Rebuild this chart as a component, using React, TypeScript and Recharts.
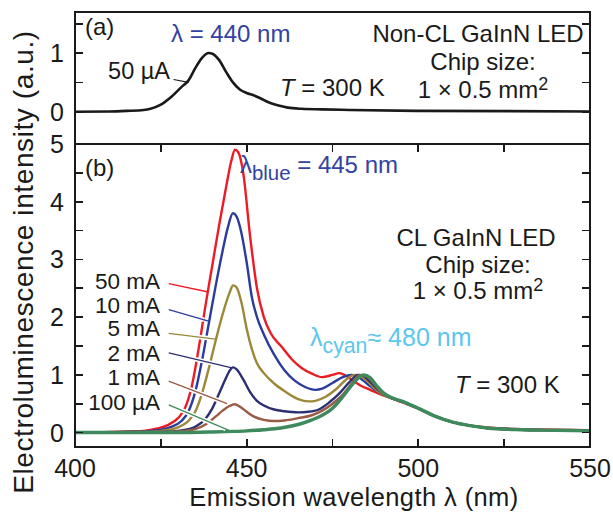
import React from "react";
import { Line, LineChart, ReferenceLine, XAxis, YAxis } from "recharts";

type Pt = [number, number];

// wavelength (nm), intensity (a.u.)
const nonCl50uA: Pt[] = [
  [400, 0], [410, 0.005], [415, 0.015], [420, 0.03], [422, 0.05], [425, 0.12], [428, 0.25],
  [431, 0.42], [433, 0.53], [435, 0.74], [437, 0.92], [439, 1.0], [440, 0.99], [442, 0.88],
  [444, 0.68], [446, 0.5], [448, 0.38], [450, 0.32], [452, 0.28], [454, 0.23], [456, 0.17],
  [459, 0.11], [462, 0.07], [466, 0.05], [472, 0.04], [480, 0.03], [500, 0.015], [550, 0.005],
];

const cl50mA: Pt[] = [
  [400, 0], [410, 0.01], [415, 0.02], [420, 0.03], [424, 0.07], [427, 0.13], [430, 0.25],
  [432, 0.42], [434, 0.8], [436, 1.45], [438, 2.2], [440, 2.9], [442, 3.6], [444, 4.25],
  [445.5, 4.7], [446.6, 4.9], [447.6, 4.85], [449, 4.5], [451, 3.4], [453, 2.5], [455, 2.0],
  [457, 1.72], [460, 1.5], [463, 1.28], [466, 1.12], [469, 1.02], [472, 0.96], [475, 1.0],
  [477, 1.03], [479, 0.98], [481, 0.9], [483, 0.82], [486, 0.74], [489, 0.66], [492, 0.6],
  [495, 0.53], [500, 0.42], [505, 0.28], [510, 0.18], [515, 0.12], [520, 0.09], [530, 0.06],
  [540, 0.05], [550, 0.04],
];

const cl10mA: Pt[] = [
  [400, 0], [415, 0.01], [420, 0.02], [425, 0.05], [428, 0.1], [431, 0.2], [433, 0.36],
  [435, 0.7], [437, 1.25], [439, 1.9], [441, 2.55], [443, 3.15], [444.5, 3.55], [446, 3.8],
  [447, 3.75], [448.5, 3.45], [450, 2.95], [451.5, 2.35], [453, 2.0], [455, 1.7], [458, 1.35],
  [461, 1.08], [464, 0.9], [467, 0.79], [470, 0.74], [472, 0.76], [475, 0.86], [478, 0.96],
  [480.5, 1.0], [482, 0.98], [484, 0.9], [486, 0.8], [489, 0.68], [492, 0.6], [495, 0.54],
  [500, 0.42], [505, 0.28], [510, 0.18], [515, 0.12], [520, 0.08], [530, 0.05], [540, 0.04],
  [550, 0.03],
];

const cl5mA: Pt[] = [
  [400, 0], [420, 0.01], [425, 0.03], [430, 0.09], [433, 0.2], [435, 0.36], [437, 0.68],
  [439, 1.12], [441, 1.6], [443, 2.05], [445, 2.42], [446, 2.55], [447, 2.52], [448.5, 2.25],
  [450, 1.8], [451.5, 1.45], [453, 1.2], [455, 1.03], [458, 0.85], [461, 0.72], [465, 0.58],
  [468, 0.54], [470, 0.55], [473, 0.62], [476, 0.75], [479, 0.92], [481.5, 1.0], [483, 0.98],
  [485, 0.9], [487, 0.78], [489, 0.68], [492, 0.6], [495, 0.54], [500, 0.42], [505, 0.28],
  [510, 0.18], [515, 0.12], [520, 0.08], [530, 0.05], [540, 0.04], [550, 0.03],
];

const cl2mA: Pt[] = [
  [400, 0], [425, 0.01], [430, 0.03], [435, 0.1], [438, 0.24], [440, 0.42], [442, 0.68],
  [444, 0.95], [445, 1.07], [446, 1.13], [447, 1.1], [449, 0.92], [451, 0.7], [453, 0.55],
  [455, 0.47], [458, 0.4], [461, 0.37], [465, 0.35], [468, 0.36], [471, 0.4], [474, 0.52],
  [477, 0.68], [480, 0.88], [482.5, 1.0], [484, 0.98], [486, 0.88], [489, 0.7], [492, 0.6],
  [495, 0.54], [500, 0.42], [505, 0.28], [510, 0.18], [515, 0.12], [520, 0.08], [530, 0.05],
  [540, 0.04], [550, 0.03],
];

const cl1mA: Pt[] = [
  [400, 0], [425, 0.01], [430, 0.02], [435, 0.06], [438, 0.14], [441, 0.28], [443, 0.38],
  [445, 0.46], [446.5, 0.49], [448, 0.45], [450, 0.36], [452, 0.28], [455, 0.22], [458, 0.2],
  [461, 0.21], [465, 0.25], [469, 0.3], [472, 0.38], [475, 0.5], [478, 0.66], [481, 0.88],
  [483, 1.0], [485, 0.97], [487, 0.85], [489, 0.7], [492, 0.6], [495, 0.54], [500, 0.42],
  [505, 0.28], [510, 0.18], [515, 0.12], [520, 0.08], [530, 0.05], [540, 0.04], [550, 0.03],
];

const cl100uA: Pt[] = [
  [400, 0], [430, 0.0], [440, 0.01], [446, 0.02], [450, 0.03], [455, 0.05], [460, 0.08],
  [465, 0.14], [469, 0.22], [472, 0.3], [475, 0.42], [478, 0.62], [481, 0.85], [484, 1.0],
  [486, 0.95], [488, 0.8], [490, 0.68], [492, 0.61], [495, 0.55], [500, 0.42], [505, 0.28],
  [510, 0.18], [515, 0.12], [520, 0.08], [530, 0.05], [540, 0.04], [550, 0.03],
];

const xTicks = [400, 425, 450, 475, 500, 525, 550];
const yTicksA = [0, 0.5, 1, 1.5];
const yTicksB = [0, 0.5, 1, 1.5, 2, 2.5, 3, 3.5, 4, 4.5, 5];
const xDomain: [number, number] = [400, 550];
const yDomainA: [number, number] = [-0.55, 1.7];
const yDomainB: [number, number] = [-0.25, 5];

const FONT = "'Liberation Sans', Arial, Helvetica, sans-serif";
const INK = "#1a1a1a";
const BLUE_TXT = "#3342a0";
const CYAN_TXT = "#5cc6ec";
const TICK = 7;

// plot boxes in page pixels (must agree with the chart margins below)
const PLOT_L = 75;
const PLOT_R = 590;
const BOX_A = { top: 12, bottom: 144 };
const BOX_B = { top: 144, bottom: 447 };

const seriesB = [
  { name: "50 mA", pts: cl50mA, color: "#ec1c24", width: 2.4 },
  { name: "10 mA", pts: cl10mA, color: "#2b3c9c", width: 2.4 },
  { name: "5 mA", pts: cl5mA, color: "#9c8838", width: 2.4 },
  { name: "2 mA", pts: cl2mA, color: "#2c2f72", width: 2.4 },
  { name: "1 mA", pts: cl1mA, color: "#9a5a44", width: 2.4 },
  { name: "100 \u00b5A", pts: cl100uA, color: "#3f8a5c", width: 3.4 },
];

// leader lines from the current labels to their curves (data coords)
const leaders: { from: Pt; to: Pt; labelY: number }[] = [
  { from: [427.3, 2.58], to: [438.5, 2.44], labelY: 282 },
  { from: [427.3, 2.13], to: [438.9, 1.93], labelY: 306 },
  { from: [427.3, 1.72], to: [440.9, 1.62], labelY: 329 },
  { from: [427.3, 1.38], to: [445.7, 1.12], labelY: 354 },
  { from: [427.3, 0.89], to: [444.3, 0.5], labelY: 378 },
  { from: [427.3, 0.48], to: [445.2, 0.03], labelY: 403 },
];

const rows = (pts: Pt[]) => pts.map(([x, y]) => ({ x, y }));

const LabelBottom = ({ x, y, payload }: any) =>
  payload.value % 50 === 0 ? (
    <text x={x} y={+y + 30} textAnchor="middle" fontSize={25} fontFamily={FONT} fill={INK}>
      {payload.value}
    </text>
  ) : <g />;
const LabelLeft = ({ x, y, payload }: any) =>
  Number.isInteger(payload.value) ? (
    <text x={+x - 11} y={+y + 9} textAnchor="end" fontSize={25} fontFamily={FONT} fill={INK}>
      {payload.value}
    </text>
  ) : <g />;

// frame + inward tick marks laid over the plot box
function Frame({ top, bottom, yDomain, yTicks, xTicksShown }: {
  top: number; bottom: number; yDomain: [number, number]; yTicks: number[]; xTicksShown: boolean;
}) {
  const px = (v: number) => PLOT_L + ((v - xDomain[0]) / (xDomain[1] - xDomain[0])) * (PLOT_R - PLOT_L);
  const py = (v: number) => bottom - ((v - yDomain[0]) / (yDomain[1] - yDomain[0])) * (bottom - top);
  const mark = (l: number, t: number, w: number, h: number, k: string) => (
    <div key={k} style={{ position: "absolute", left: l, top: t, width: w, height: h, background: INK }} />
  );
  return (
    <>
      <div
        style={{
          position: "absolute", left: PLOT_L - 1, top: top - 1, width: PLOT_R - PLOT_L + 2,
          height: bottom - top + 2, border: `2px solid ${INK}`, boxSizing: "border-box",
        }}
      />
      {yTicks.map((v) => mark(PLOT_L + 1, py(v) - 0.9, TICK, 1.8, `l${v}`))}
      {yTicks.map((v) => mark(PLOT_R - 1 - TICK, py(v) - 0.9, TICK, 1.8, `r${v}`))}
      {xTicksShown && xTicks.map((v) => mark(px(v) - 0.9, bottom - 1 - TICK, 1.8, TICK, `b${v}`))}
      {xTicksShown && xTicks.map((v) => mark(px(v) - 0.9, top + 1, 1.8, TICK, `t${v}`))}
    </>
  );
}

function Txt({
  x, y, size = 24, color = INK, anchor = "start", children,
}: {
  x: number; y: number; size?: number; color?: string; anchor?: "start" | "middle" | "end"; children: React.ReactNode;
}) {
  const tx = anchor === "middle" ? "-50%" : anchor === "end" ? "-100%" : "0";
  return (
    <div
      style={{
        position: "absolute", left: x, top: y, transform: `translate(${tx},-50%)`,
        fontSize: size, color, fontFamily: FONT, lineHeight: 0.9, whiteSpace: "nowrap",
      }}
    >
      {children}
    </div>
  );
}

const Sub = ({ children }: { children: React.ReactNode }) => (
  <span style={{ fontSize: "0.85em", position: "relative", top: "0.32em" }}>{children}</span>
);
const Sup = ({ children }: { children: React.ReactNode }) => (
  <span style={{ fontSize: "0.75em", position: "relative", top: "-0.45em" }}>{children}</span>
);

function ChipSize({ cx, y0, gap }: { cx: number; y0: number; gap: number }) {
  return (
    <>
      <Txt x={cx} y={y0} anchor="middle">Chip size:</Txt>
      <Txt x={cx} y={y0 + gap} anchor="middle">
        1 {"\u00d7"} 0.5 mm<Sup>2</Sup>
      </Txt>
    </>
  );
}

export default function App() {
  return (
    <div style={{ position: "absolute", left: 0, top: 0, width: 613, height: 513, background: "#fff" }}>
      {/* panel (a) */}
      <div style={{ position: "absolute", left: 0, top: 0, width: 613, height: 145 }}>
        <LineChart width={613} height={145} margin={{ top: 12, right: 22, bottom: 0, left: 0 }}>
          <XAxis dataKey="x" type="number" domain={xDomain} height={1} tick={false} tickLine={false}
            axisLine={false} />
          <YAxis type="number" domain={yDomainA} ticks={yTicksA} interval={0} width={75}
            tickSize={0} tickMargin={0} tickLine={false} axisLine={false} tick={LabelLeft} />
          <YAxis yAxisId="r" orientation="right" type="number" domain={yDomainA} width={1}
            tick={false} tickLine={false} axisLine={false} />
          <Line data={rows(nonCl50uA)} dataKey="y" type="monotone" stroke={INK} strokeWidth={2.6}
            dot={false} isAnimationActive={false} />
          <ReferenceLine segment={[{ x: 428.7, y: 0.55 }, { x: 433.1, y: 0.5 }]} stroke={INK} strokeWidth={1.2} />
        </LineChart>
      </div>

      {/* panel (b) */}
      <div style={{ position: "absolute", left: 0, top: 120, width: 613, height: 393 }}>
        <LineChart width={613} height={393} margin={{ top: 23, right: 22, bottom: 65, left: 0 }}>
          <XAxis dataKey="x" type="number" domain={xDomain} ticks={xTicks} interval={0} height={1}
            tickSize={0} tickMargin={0} tickLine={false} axisLine={false} tick={LabelBottom} />
          <XAxis xAxisId="top" orientation="top" type="number" domain={xDomain} height={1}
            tick={false} tickLine={false} axisLine={false} />
          <YAxis type="number" domain={yDomainB} ticks={yTicksB} interval={0} width={75}
            tickSize={0} tickMargin={0} tickLine={false} axisLine={false} tick={LabelLeft} />
          <YAxis yAxisId="r" orientation="right" type="number" domain={yDomainB} width={1}
            tick={false} tickLine={false} axisLine={false} />
          {seriesB.map((s) => (
            <Line key={s.name} data={rows(s.pts)} dataKey="y" name={s.name} type="monotone"
              stroke={s.color} strokeWidth={s.width} dot={false} isAnimationActive={false} />
          ))}
          {leaders.map((l, i) => {
            const t = 1 - 1.3 / (l.to[0] - l.from[0]);
            const hx = l.from[0] + (l.to[0] - l.from[0]) * t;
            const hy = l.from[1] + (l.to[1] - l.from[1]) * t;
            return (
              <ReferenceLine key={`h${i}`} segment={[{ x: l.from[0], y: l.from[1] }, { x: hx, y: hy }]}
                stroke="#fff" strokeWidth={4.5} />
            );
          })}
          {leaders.map((l, i) => (
            <ReferenceLine key={`l${i}`} segment={[{ x: l.from[0], y: l.from[1] }, { x: l.to[0], y: l.to[1] }]}
              stroke={seriesB[i].color} strokeWidth={1.3} />
          ))}
        </LineChart>
      </div>

      <Frame top={BOX_A.top} bottom={BOX_A.bottom} yDomain={yDomainA} yTicks={yTicksA} xTicksShown={false} />
      <Frame top={BOX_B.top} bottom={BOX_B.bottom} yDomain={yDomainB} yTicks={yTicksB} xTicksShown />

      {/* panel (a) text */}
      <Txt x={85} y={27}>(a)</Txt>
      <Txt x={171} y={34} color={BLUE_TXT}>{"\u03bb"} = 440 nm</Txt>
      <Txt x={170} y={72} size={23.5} anchor="end">50 {"\u00b5"}A</Txt>
      <Txt x={280} y={88}><i>T</i> = 300 K</Txt>
      <Txt x={478} y={34} anchor="middle">Non-CL GaInN LED</Txt>
      <ChipSize cx={483} y0={62} gap={28} />

      {/* panel (b) text */}
      <Txt x={85} y={168}>(b)</Txt>
      <Txt x={240} y={165} color={BLUE_TXT}>{"\u03bb"}<Sub>blue</Sub> = 445 nm</Txt>
      <Txt x={476} y={238} anchor="middle">CL GaInN LED</Txt>
      <ChipSize cx={478} y0={265} gap={26} />
      <Txt x={310} y={338} size={25} color={CYAN_TXT}>{"\u03bb"}<Sub>cyan</Sub>{"\u2248"} 480 nm</Txt>
      <Txt x={455} y={385}><i>T</i> = 300 K</Txt>
      {seriesB.map((s, i) => (
        <Txt key={s.name} x={160} y={leaders[i].labelY} size={22.5} anchor="end">{s.name}</Txt>
      ))}

      {/* axis titles */}
      <div
        style={{
          position: "absolute", left: 354, top: 497, transform: "translate(-50%,-50%)",
          fontSize: 25.5, letterSpacing: 0.4, fontFamily: FONT, color: INK, whiteSpace: "nowrap", lineHeight: 1.1,
        }}
      >
        Emission wavelength {"\u03bb"} (nm)
      </div>
      <div
        style={{
          position: "absolute", left: 24, top: 262, transform: "translate(-50%,-50%) rotate(-90deg)",
          fontSize: 28, letterSpacing: 0.6, fontFamily: FONT, color: INK, whiteSpace: "nowrap", lineHeight: 1,
        }}
      >
        Electroluminescence intensity (a.u.)
      </div>
    </div>
  );
}
